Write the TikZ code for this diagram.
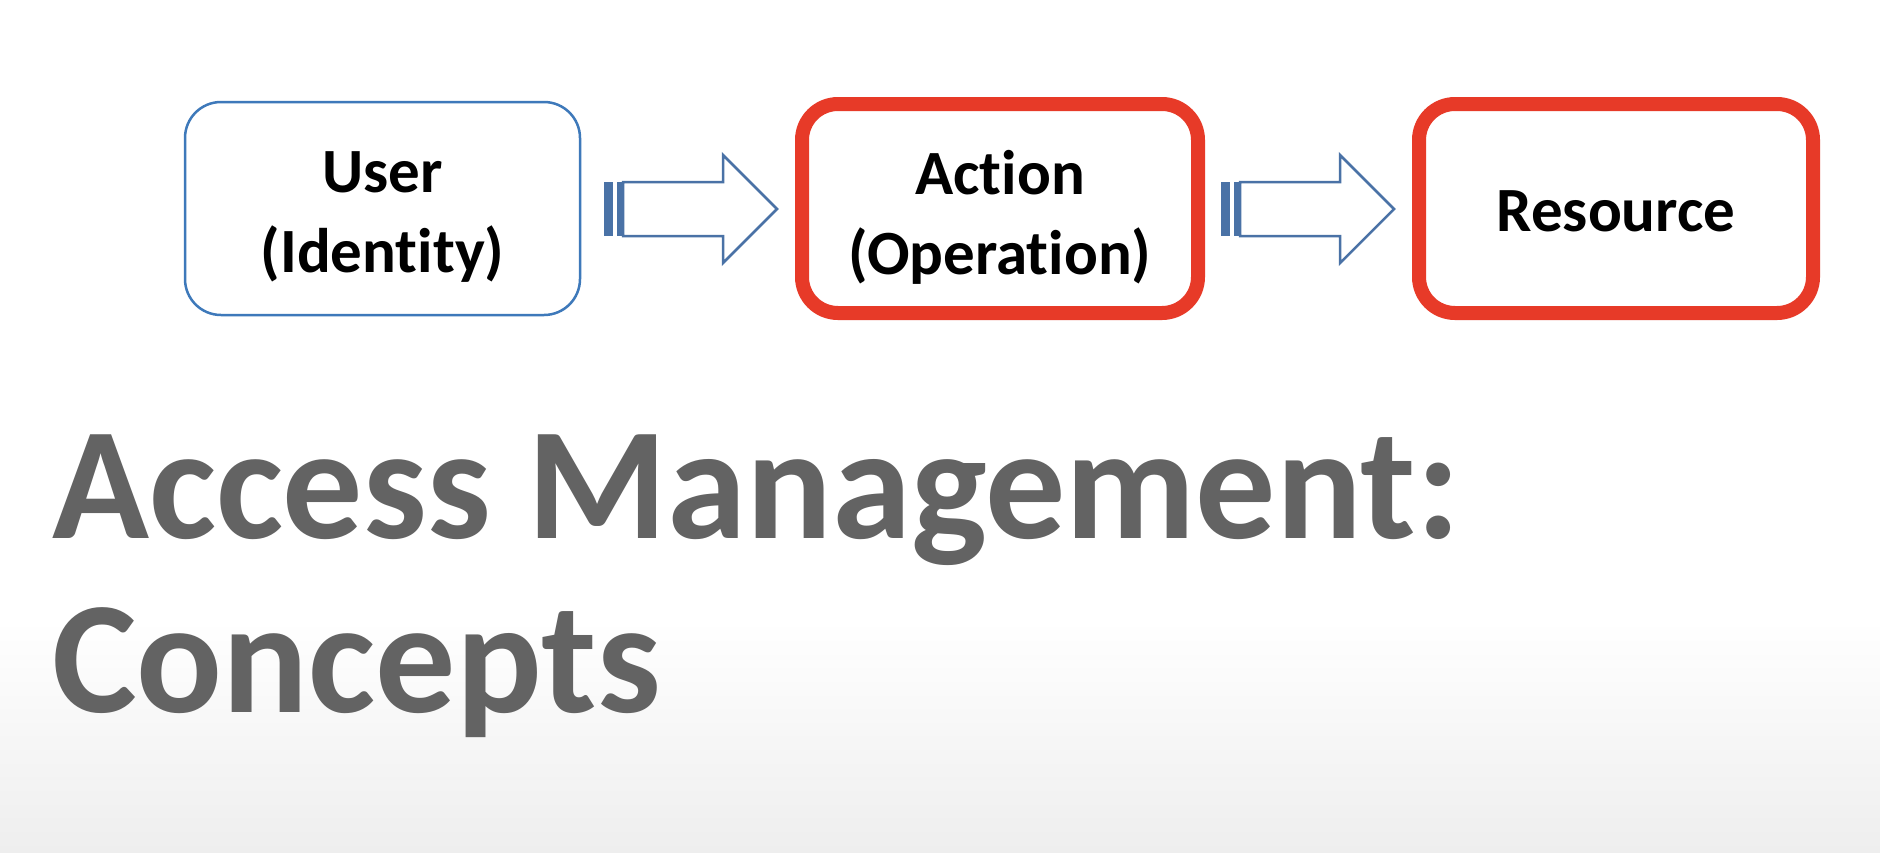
\documentclass[tikz,border=0pt]{standalone}
\usepackage{fontspec}
\setmainfont{Carlito}[Ligatures=NoCommon]
\definecolor{boxblue}{RGB}{62,121,186}
\definecolor{arrowblue}{RGB}{74,114,166}
\definecolor{boxred}{RGB}{231,58,40}
\definecolor{titlegray}{RGB}{99,99,99}
\definecolor{bggray}{RGB}{238,238,238}
\tikzset{
  x=1pt, y=1pt,
  conceptbox/.style={rectangle, rounded corners=36pt, fill=white, inner sep=0pt},
  bluebox/.style={conceptbox, draw=boxblue, line width=2.5pt, minimum width=395pt, minimum height=213pt},
  redbox/.style={conceptbox, draw=boxred, line width=14pt, minimum width=396pt, minimum height=209pt},
  boxtext/.style={align=center, inner sep=0pt, text=black,
    font=\bfseries\fontsize{63}{80}\selectfont},
  titletext/.style={anchor=base west, inner sep=0pt, text=titlegray,
    font=\bfseries\fontsize{160}{174}\selectfont},
  stripedarrow/.pic={
    \fill[arrowblue] (0,-27) rectangle (9,27);
    \fill[arrowblue] (13,-27) rectangle (19,27);
    \draw[arrowblue, line width=2.5pt, line join=miter, fill=white]
      (19,27) -- (119,27) -- (119,54) -- (173,0) -- (119,-54) -- (119,-27) -- (19,-27) -- cycle;
  }
}
\begin{document}
\begin{tikzpicture}
  % background
  \useasboundingbox (0,0) rectangle (1880,-852);
  \fill[white] (0,0) rectangle (1880,-620);
  \shade[top color=white, bottom color=bggray] (0,-620) rectangle (1880,-852);

  % boxes
  \node[bluebox] (user) at (382.5,-208.5) {};
  \node[redbox] (action) at (1000,-208.5) {};
  \node[redbox, minimum width=394pt] (resource) at (1616,-208.5) {};

  % box texts
  \node[boxtext, yshift=-9pt] (usertext) at (user.center) {User\\(Identity)};
  \node[boxtext, yshift=-9pt] (actiontext) at (action.center) {Action\\(Operation)};
  \node[boxtext, yshift=-3pt] (resourcetext) at (resource.center) {Resource};

  % striped block arrows
  \pic at (604,-209) {stripedarrow};
  \pic at (1221,-209) {stripedarrow};

  % title
  \node[titletext] (title1) at (52,-538) {Access Management:};
  \node[titletext] (title2) at (52,-712) {Concepts};
\end{tikzpicture}
\end{document}
